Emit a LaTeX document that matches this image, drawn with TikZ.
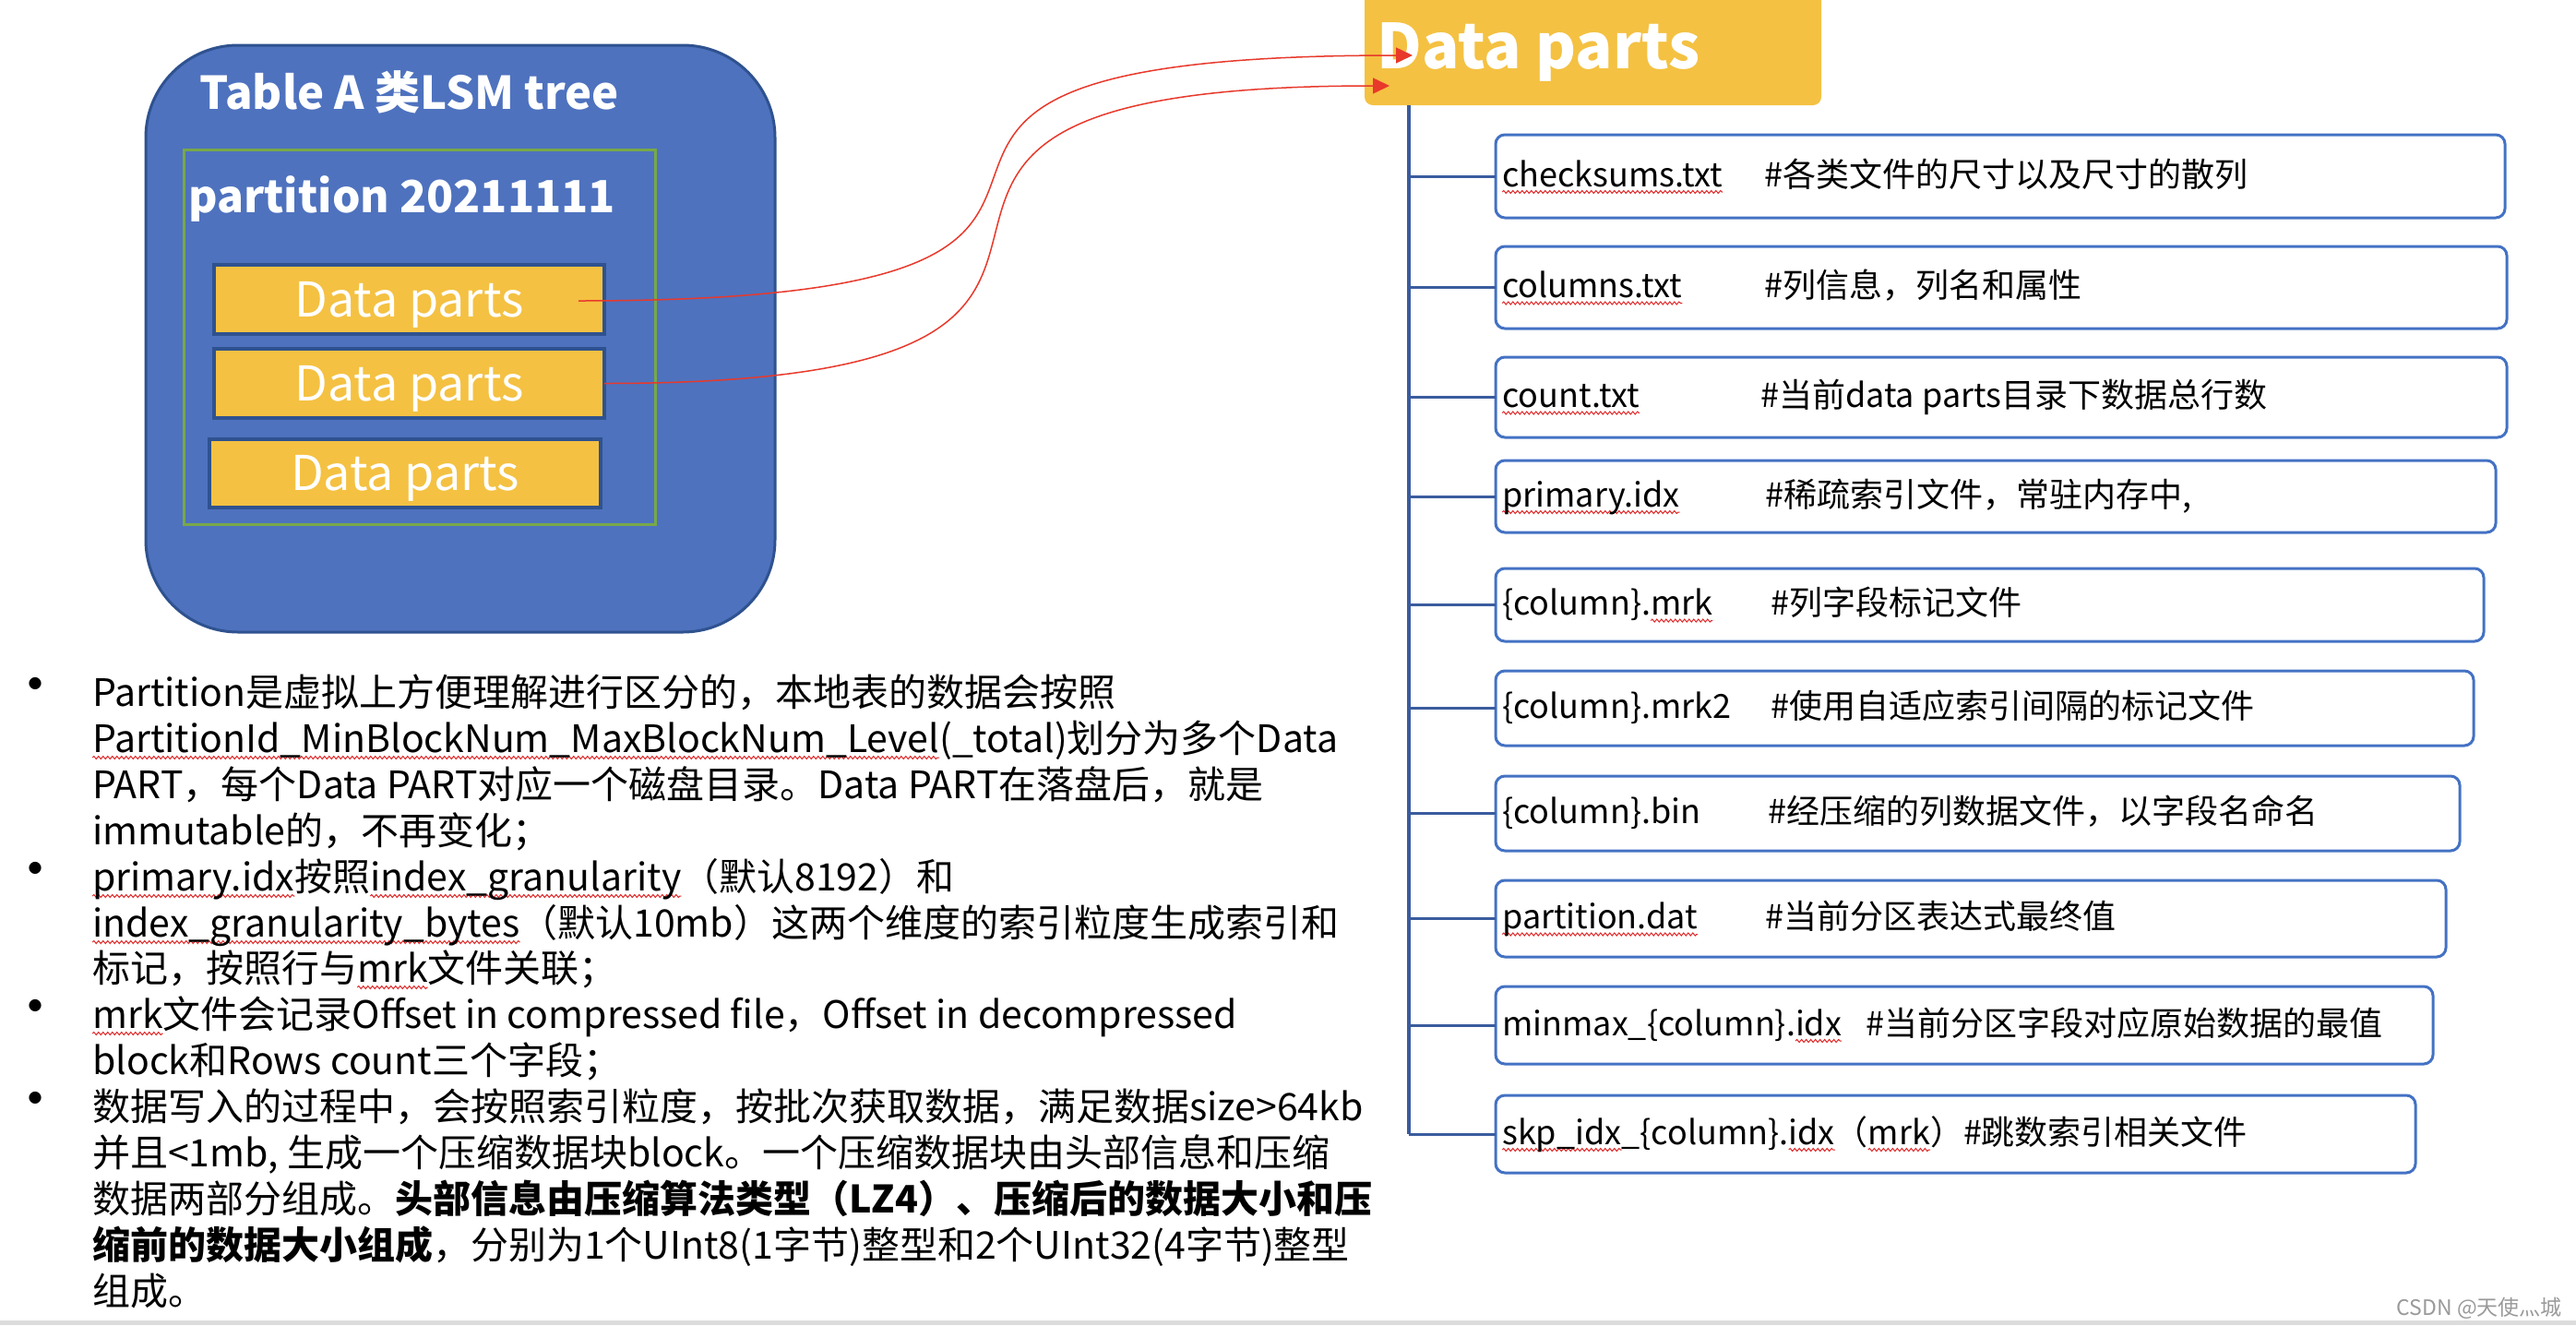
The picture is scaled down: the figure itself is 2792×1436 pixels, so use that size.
\documentclass[tikz,border=0pt]{standalone}
\usepackage{fontspec}
\setmainfont{Noto Sans CJK SC}
\usetikzlibrary{arrows.meta,decorations.pathmorphing}
\definecolor{tblue}{HTML}{4E72BE}
\definecolor{tborder}{HTML}{2F528F}
\definecolor{pgreen}{HTML}{78A848}
\definecolor{gold}{HTML}{F4C142}
\definecolor{boxblue}{HTML}{4472C4}
\definecolor{linkblue}{HTML}{3A5C9E}
\definecolor{lred}{HTML}{E8392B}
\definecolor{wmgray}{HTML}{9A9A9A}
\definecolor{stripgray}{HTML}{DCDCDC}
\definecolor{wavyred}{HTML}{E02828}
\newsavebox\wvbox
\newdimen\wvlen
\newcommand\wv[1]{\sbox\wvbox{#1}\wvlen=\wd\wvbox\relax\tikz[overlay,baseline=0pt]\draw[draw=wavyred,line width=1pt,decorate,decoration={snake,amplitude=1.5pt,segment length=5pt}] (0pt,-6pt) -- (\wvlen,-6pt);\usebox\wvbox}
\begin{document}
\begin{tikzpicture}[x=1pt,y=-1pt,
  tablebox/.style={draw=tborder,line width=3pt,fill=tblue,rounded corners=100pt,minimum width=682pt,minimum height=636pt,inner sep=0pt,outer sep=0pt},
  partbox/.style={draw=pgreen,line width=3pt,minimum width=511pt,minimum height=406pt,inner sep=0pt,outer sep=0pt},
  wtitle/.style={text=white,inner sep=0pt,anchor=base west,font=\bfseries\fontsize{49}{56}\selectfont},
  dpbox/.style={draw=tborder,line width=4pt,fill=gold,minimum width=423pt,minimum height=75pt,inner sep=0pt,outer sep=0pt,text=white,font=\fontsize{52}{60}\selectfont,text height=37pt,text depth=0pt},
  hdrbox/.style={fill=gold,rounded corners=9pt,minimum width=495pt,minimum height=134pt,inner sep=0pt,outer sep=0pt},
  filebox/.style={draw=boxblue,line width=3pt,rounded corners=10pt,inner sep=0pt,outer sep=0pt},
  ftext/.style={anchor=base west,inner sep=0pt,font=\fontsize{36}{42}\selectfont},
  ptext/.style={anchor=base west,inner sep=0pt,font=\fontsize{41}{48}\selectfont},
  bullet/.style={inner sep=0pt,font=\fontsize{62}{62}\selectfont},
  link/.style={draw=lred,line width=1.5pt,-{Triangle[length=18pt,width=17pt,fill=lred]}},
  vline/.style={draw=linkblue,line width=3.3pt},
  stub/.style={draw=linkblue,line width=3pt}
]
\useasboundingbox (0,0) rectangle (2792,1436);
\fill[white] (0,0) rectangle (2792,1436);
\fill[stripgray] (0,1431) rectangle (2792,1436);

% left container
\node[tablebox] (table) at (499,367) {};
\node[wtitle] (ttl) at (216,118) {Table A 类LSM tree};
\node[partbox] (part) at (454.5,365) {};
\node[wtitle,font=\bfseries\fontsize{48}{56}\selectfont] (ptl) at (204,230) {partition 20211111};
\node[dpbox] (dp1) at (443.5,324.5) {Data parts};
\node[dpbox] (dp2) at (443.5,415.5) {Data parts};
\node[dpbox,minimum width=424pt,minimum height=74pt] (dp3) at (439,513) {Data parts};

% header
\node[hdrbox] (hdr) at (1726.5,47) {};
\node[wtitle,font=\bfseries\fontsize{67}{76}\selectfont] (hdrt) at (1492,74) {Data parts};

% links
\coordinate (c1s) at (627,326);
\coordinate (c1e) at (1531,60);
\coordinate (c2e) at (1506,93);
\draw[link] (c1s) .. controls +(800,0) and +(-800,0) .. (c1e);
\draw[link] (dp2.east) .. controls +(760,0) and +(-760,0) .. (c2e);

% file boxes
\node[filebox,minimum width=1094pt,minimum height=90pt] (f1) at (2168,191) {};
\node[filebox,minimum width=1096pt,minimum height=89pt] (f2) at (2169,311.5) {};
\node[filebox,minimum width=1096pt,minimum height=87pt] (f3) at (2169,430.5) {};
\node[filebox,minimum width=1084pt,minimum height=78pt] (f4) at (2163,538) {};
\node[filebox,minimum width=1071pt,minimum height=79pt] (f5) at (2156.5,655.5) {};
\node[filebox,minimum width=1060pt,minimum height=81pt] (f6) at (2151,767.5) {};
\node[filebox,minimum width=1045pt,minimum height=81pt] (f7) at (2143.5,881.5) {};
\node[filebox,minimum width=1030pt,minimum height=83pt] (f8) at (2136,995.5) {};
\node[filebox,minimum width=1016pt,minimum height=84pt] (f9) at (2129,1111) {};
\node[filebox,minimum width=997pt,minimum height=84pt] (f10) at (2119.5,1229) {};

\coordinate (vx) at (1527,0);
\draw[vline] (vx |- hdr.south) -- (vx |- f10.west);
\foreach \f in {f1,f2,f3,f4,f5,f6,f7,f8,f9,f10} \draw[stub] (vx |- \f.west) -- (\f.west);

\node[ftext] (n1) at (1628,202) {\wv{checksums.txt}};
\node[ftext] (m1) at (1912,202) {\#各类文件的尺寸以及尺寸的散列};
\node[ftext] (n2) at (1628,322.5) {\wv{columns.txt}};
\node[ftext] (m2) at (1912,322.5) {\#列信息，列名和属性};
\node[ftext] (n3) at (1628,441.5) {\wv{count.txt}};
\node[ftext] (m3) at (1908,441.5) {\#当前data parts目录下数据总行数};
\node[ftext] (n4) at (1628,549) {\wv{primary.idx}};
\node[ftext] (m4) at (1913,549) {\#稀疏索引文件，常驻内存中,};
\node[ftext] (n5) at (1628,666.5) {\{column\}.\wv{mrk}};
\node[ftext] (m5) at (1919,666.5) {\#列字段标记文件};
\node[ftext] (n6) at (1628,778.5) {\{column\}.mrk2};
\node[ftext] (m6) at (1919,778.5) {\#使用自适应索引间隔的标记文件};
\node[ftext] (n7) at (1628,892.5) {\{column\}.bin};
\node[ftext] (m7) at (1916,892.5) {\#经压缩的列数据文件，以字段名命名};
\node[ftext] (n8) at (1628,1006.5) {\wv{partition.dat}};
\node[ftext] (m8) at (1913,1006.5) {\#当前分区表达式最终值};
\node[ftext] (n9) at (1628,1122) {minmax\_\{column\}.\wv{idx}};
\node[ftext] (m9) at (2022,1122) {\#当前分区字段对应原始数据的最值};
\node[ftext] (n10) at (1628,1240) {\wv{skp\_idx}\_\{column\}.\wv{idx}（\wv{mrk}）\#跳数索引相关文件};

% bullets text
\node[bullet] (b1) at (39,749) {•};
\node[bullet] (b2) at (39,949) {•};
\node[bullet] (b3) at (39,1098) {•};
\node[bullet] (b4) at (39,1198) {•};
\node[ptext] (l1) at (100,765) {Partition是虚拟上方便理解进行区分的，本地表的数据会按照};
\node[ptext] (l2) at (100,815) {\wv{PartitionId\_MinBlockNum\_MaxBlockNum\_Level}(\_total)划分为多个Data};
\node[ptext] (l3) at (100,865) {PART，每个Data PART对应一个磁盘目录。Data PART在落盘后，就是};
\node[ptext] (l4) at (100,915) {immutable的，不再变化；};
\node[ptext] (l5) at (100,965) {\wv{primary.idx}按照\wv{index\_granularity}（默认8192）和};
\node[ptext] (l6) at (100,1015) {\wv{index\_granularity\_bytes}（默认10mb）这两个维度的索引粒度生成索引和};
\node[ptext] (l7) at (100,1064) {标记，按照行与\wv{mrk}文件关联；};
\node[ptext] (l8) at (100,1114) {\wv{mrk}文件会记录Offset in compressed file，Offset in decompressed};
\node[ptext] (l9) at (100,1164) {block和Rows count三个字段；};
\node[ptext] (l10) at (100,1214) {数据写入的过程中，会按照索引粒度，按批次获取数据，满足数据size>64kb};
\node[ptext] (l11) at (100,1264) {并且<1mb, 生成一个压缩数据块block。一个压缩数据块由头部信息和压缩};
\node[ptext] (l12) at (100,1314) {数据两部分组成。\textbf{头部信息由压缩算法类型（LZ4）、压缩后的数据大小和压}};
\node[ptext] (l13) at (100,1364) {\textbf{缩前的数据大小组成}，分别为1个UInt8(1字节)整型和2个UInt32(4字节)整型};
\node[ptext] (l14) at (100,1414) {组成。};

\node[anchor=base east,inner sep=0pt,text=wmgray,font=\fontsize{23}{26}\selectfont] (wm) at (2777,1425) {CSDN @天使灬城};
\end{tikzpicture}
\end{document}
